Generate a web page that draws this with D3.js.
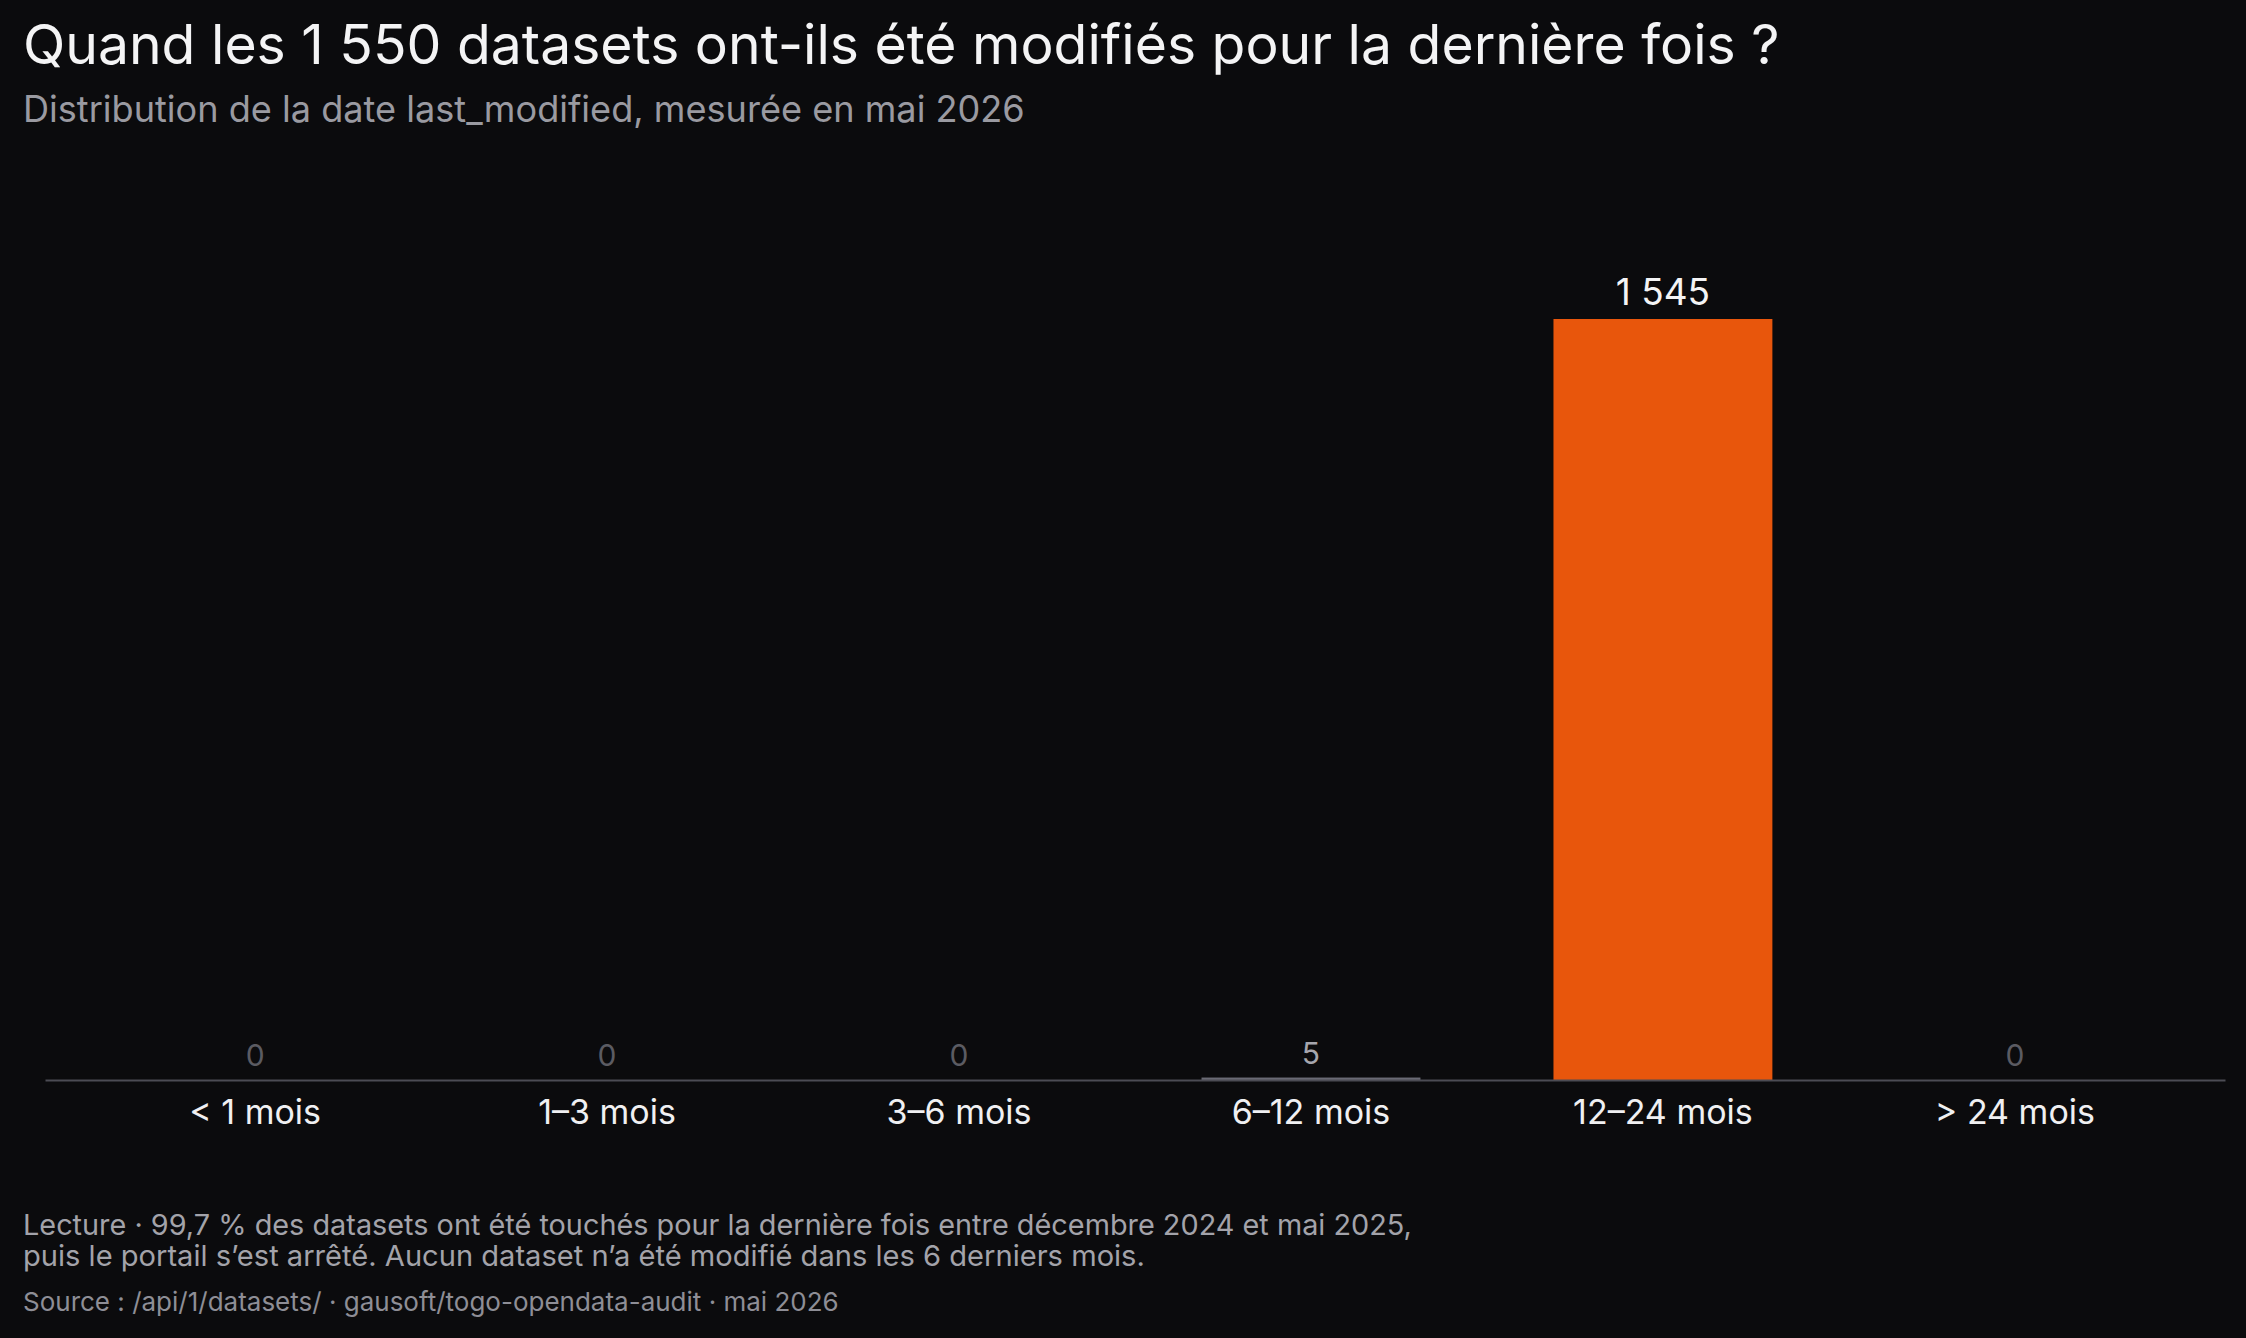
<!DOCTYPE html>
<html><head><meta charset="utf-8">
<script src="https://cdn.jsdelivr.net/npm/d3@7"></script>
<style>
html,body{margin:0;padding:0;background:#0b0b0d;}
svg{display:block;}
text{font-family:Inter,"Noto Sans",sans-serif;}
</style></head>
<body>
<svg id="chart" width="2246" height="1338"></svg>
<script>
const categories = ["< 1 mois","1–3 mois","3–6 mois","6–12 mois","12–24 mois","> 24 mois"];
const counts = [0,0,0,5,1545,0];
const highlight = "12–24 mois";
const title = "Quand les 1 550 datasets ont-ils été modifiés pour la dernière fois ?";
const subtitle = "Distribution de la date last_modified, mesurée en mai 2026";
const noteLines = ["Lecture · 99,7 % des datasets ont été touchés pour la dernière fois entre décembre 2024 et mai 2025,",
                   "puis le portail s’est arrêté. Aucun dataset n’a été modifié dans les 6 derniers mois."];
const source = "Source : /api/1/datasets/ · gausoft/togo-opendata-audit · mai 2026";

const W = 2246, H = 1338;
const svg = d3.select("#chart");
svg.append("rect").attr("width",W).attr("height",H).attr("fill","#0b0b0d");

function fit(sel, target){
  const w = sel.node().getComputedTextLength();
  const fs = parseFloat(sel.attr("font-size"));
  if (w>0) sel.attr("font-size", (fs*target/w).toFixed(2));
}

const t = svg.append("text").attr("x",23).attr("y",64).attr("font-size",52)
  .attr("fill","#f4f4f5").attr("font-weight",400).text(title);
fit(t, 1757);
const st = svg.append("text").attr("x",23).attr("y",122).attr("font-size",32)
  .attr("fill","#9a9aa1").text(subtitle);
fit(st, 1002);

const x = d3.scaleBand().domain(categories).range([45,2225]).paddingInner(0.378).paddingOuter(0.286);
const y = d3.scaleLinear().domain([0, d3.max(counts)]).range([1080, 319]);

const g = svg.append("g");
g.selectAll("rect.bar").data(categories).join("rect").attr("class","bar")
  .attr("x",d=>x(d)).attr("width",x.bandwidth())
  .attr("y",(d,i)=>y(counts[i])).attr("height",(d,i)=>y(0)-y(counts[i]))
  .attr("fill",d=>d===highlight?"#e8560c":"#6a6a74");

const fmt = v => d3.format(",")(v).replace(/,/g," ");
g.selectAll("text.val").data(categories).join("text").attr("class","val")
  .attr("x",d=>x(d)+x.bandwidth()/2)
  .attr("y",(d,i)=>y(counts[i])-14)
  .attr("text-anchor","middle")
  .attr("font-size",(d,i)=>d===highlight?37:30)
  .attr("fill",(d,i)=>d===highlight?"#f4f4f5":(counts[i]===0?"#5b5b62":"#a6a6ad"))
  .text((d,i)=>fmt(counts[i]));

const ax = svg.append("g").attr("transform","translate(0,1080)")
  .call(d3.axisBottom(x).tickSize(0).tickSizeOuter(0).tickPadding(20));
ax.select(".domain").attr("stroke","#4c4c54").attr("stroke-width",2);
ax.selectAll(".tick text").attr("font-size",34).attr("fill","#f0f0f2")
  .attr("font-family","Inter,'Noto Sans',sans-serif");

noteLines.forEach((l,i)=>{
  const n = svg.append("text").attr("x",23).attr("y",1235+i*31).attr("font-size",26)
    .attr("fill","#a3a3aa").text(l);
  fit(n, i===0?1389:1122);
});
const s = svg.append("text").attr("x",23).attr("y",1311).attr("font-size",24)
  .attr("fill","#8e8e96").text(source);
fit(s, 816);
</script>
</body></html>
